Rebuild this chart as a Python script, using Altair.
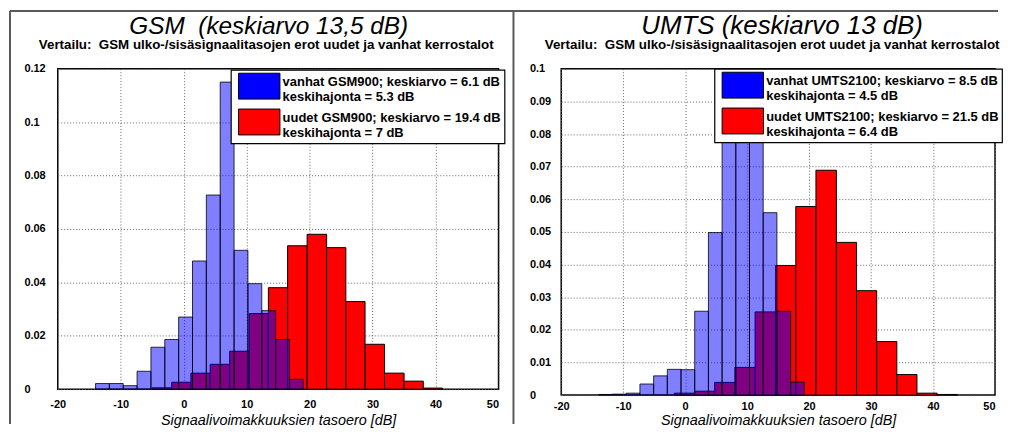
import altair as alt
import pandas as pd

FONT = "Liberation Sans"

GSM_TITLE = "GSM\u00a0 (keskiarvo 13,5 dB)"
UMTS_TITLE = "UMTS (keskiarvo 13 dB)"
SUBTITLE = "Vertailu:\u00a0 GSM ulko-/sisäsignaalitasojen erot uudet ja vanhat kerrostalot"
X_TITLE = "Signaalivoimakkuuksien tasoero [dB]"

GSM_OLD_LABEL = "vanhat GSM900; keskiarvo = 6.1 dB|keskihajonta = 5.3 dB"
GSM_NEW_LABEL = "uudet GSM900; keskiarvo = 19.4 dB|keskihajonta = 7 dB"
UMTS_OLD_LABEL = "vanhat UMTS2100; keskiarvo = 8.5 dB|keskihajonta = 4.5 dB"
UMTS_NEW_LABEL = "uudet UMTS2100; keskiarvo = 21.5 dB|keskihajonta = 6.4 dB"

X_TICKS = [-20, -10, 0, 10, 20, 30, 40, 50]
GSM_Y_TICKS = [0, 0.02, 0.04, 0.06, 0.08, 0.1, 0.12]
UMTS_Y_TICKS = [0, 0.01, 0.02, 0.03, 0.04, 0.05, 0.06, 0.07, 0.08, 0.09, 0.1]

# GSM: old buildings (blue) and new buildings (red), density histograms
GSM_OLD_EDGES = [-14.0, -11.8, -9.6, -7.4, -5.2, -3.0, -0.8, 1.4, 3.6, 5.8, 8.0, 10.2, 12.4, 14.6, 16.8, 19.0]
GSM_OLD_DENS = [0.0021, 0.0021, 0.0013, 0.0067, 0.0157, 0.0186, 0.027, 0.048, 0.0727, 0.115, 0.052, 0.0395, 0.0294, 0.0186, 0.0037]
GSM_NEW_EDGES = [-5.0, -1.9, 1.15, 4.2, 7.3, 10.4, 13.45, 16.5, 19.6, 22.7, 25.75, 28.8, 31.9, 35.0, 38.05, 41.1]
GSM_NEW_DENS = [0.0005, 0.0026, 0.006, 0.0093, 0.0142, 0.0283, 0.038, 0.0537, 0.058, 0.053, 0.0328, 0.0168, 0.006, 0.003, 0.0004]

# UMTS
UMTS_OLD_EDGES = [-13.93, -11.72, -9.51, -7.3, -5.09, -2.88, -0.67, 1.54, 3.75, 5.96, 8.17, 10.38, 12.59, 14.8, 17.01, 19.22]
UMTS_OLD_DENS = [0.0002, 0.0003, 0.0006, 0.0034, 0.0059, 0.0079, 0.0078, 0.0257, 0.0498, 0.088, 0.095, 0.083, 0.0559, 0.0257, 0.004]
UMTS_NEW_EDGES = [-1.75, 1.5, 4.76, 8.02, 11.28, 14.6, 17.85, 21.1, 24.4, 27.65, 30.9, 34.15, 37.4, 40.65, 43.9]
UMTS_NEW_DENS = [0.0006, 0.0012, 0.0039, 0.0085, 0.0255, 0.0397, 0.0578, 0.0689, 0.0468, 0.032, 0.0164, 0.0063, 0.0006, 0.0002]


def hist_df(edges, dens, label):
    return pd.DataFrame({
        "x0": edges[:-1],
        "x1": edges[1:],
        "d": dens,
        "base": [0.0] * len(dens),
        "series": [label] * len(dens),
    })


def panel(title, title_size, title_x, sub_x, old_label, old_edges, old_dens, new_label, new_edges,
          new_dens, y_ticks, ymax, height, width, y_lab_pad, x_lab_pad, x_title_y, legend_xy, frame):
    old_df = hist_df(old_edges, old_dens, old_label)
    new_df = hist_df(new_edges, new_dens, new_label)

    xenc = alt.X("x0:Q", scale=alt.Scale(domain=[-20, 50], nice=False, zero=False),
                 axis=alt.Axis(values=X_TICKS, title=X_TITLE, labelExpr="'' + datum.value",
                               labelPadding=x_lab_pad, titleY=x_title_y, titleBaseline="alphabetic",
                               labelAlign=alt.condition("datum.value == 50",
                                                        alt.value("right"), alt.value("center"))))
    yenc = alt.Y("d:Q", scale=alt.Scale(domain=[0, ymax], nice=False),
                 axis=alt.Axis(values=y_ticks, title=None, labelExpr="'' + datum.value",
                               labelAlign="left", labelPadding=y_lab_pad))
    color = alt.Color(
        "series:N",
        scale=alt.Scale(domain=[old_label, new_label], range=["#0000ff", "#ff0000"]),
        legend=alt.Legend(
            orient="none", legendX=legend_xy[0], legendY=legend_xy[1], title=None,
            symbolType="M-1.6,-1H1.6V1H-1.6Z", symbolSize=676,
            symbolStrokeColor="black", symbolStrokeWidth=1, symbolOpacity=1,
            symbolOffset=12, labelOffset=10,
            labelFont=FONT, labelFontSize=13, labelFontWeight="bold", labelColor="black",
            labelLimit=500, labelExpr="split(datum.label, '|')", labelBaseline="alphabetic",
            fillColor="white", strokeColor="black", padding=3, rowPadding=2,
        ),
    )

    red = alt.Chart(new_df).mark_rect(stroke="black", strokeWidth=1).encode(
        x=xenc, x2="x1:Q", y=yenc, y2="base:Q", color=color)
    blue = alt.Chart(old_df).mark_rect(fillOpacity=0.5, stroke="black", strokeOpacity=0.8,
                                       strokeWidth=1).encode(
        x=xenc, x2="x1:Q", y=yenc, y2="base:Q", color=color)

    one = pd.DataFrame({"k": [0]})
    fv = alt.Chart(one).mark_rule(color="#5a5a5a", strokeWidth=2).encode(
        x=alt.value(frame[0]), y=alt.value(frame[1]), y2=alt.value(frame[2]))
    fh = alt.Chart(one).mark_rule(color="#5a5a5a", strokeWidth=2).encode(
        x=alt.value(frame[0]), x2=alt.value(frame[3]), y=alt.value(frame[1]))
    ttl = alt.Chart(one).mark_text(
        font=FONT, fontSize=title_size, fontStyle="italic", fontWeight="normal",
        color="black", align="center", baseline="alphabetic"
    ).encode(x=alt.value(title_x), y=alt.value(-35), text=alt.value(title))
    sub = alt.Chart(one).mark_text(
        font=FONT, fontSize=13.4, fontWeight="bold", color="black",
        align="center", baseline="alphabetic"
    ).encode(x=alt.value(sub_x), y=alt.value(-19.5), text=alt.value(SUBTITLE))

    return alt.layer(red, blue, fv, fh, ttl, sub).properties(
        width=width, height=height,
    ).resolve_scale(color="shared")


left = panel(GSM_TITLE, 24.5, 212, 209.5, GSM_OLD_LABEL, GSM_OLD_EDGES, GSM_OLD_DENS,
             GSM_NEW_LABEL, GSM_NEW_EDGES, GSM_NEW_DENS,
             GSM_Y_TICKS, 0.12, 322, 443, 34, 9, 36, (174, 1), (-48, -58, 357, 459))
right = panel(UMTS_TITLE, 26, 222, 212, UMTS_OLD_LABEL, UMTS_OLD_EDGES, UMTS_OLD_DENS,
              UMTS_NEW_LABEL, UMTS_NEW_EDGES, UMTS_NEW_DENS,
              UMTS_Y_TICKS, 0.1, 328, 436, 32, 5, 30, (154, 0), (-48, -58, 357, 439))

chart = alt.hconcat(left, right, spacing=63, bounds="flush").resolve_scale(
    color="independent").resolve_legend(color="independent").properties(
    padding=0, background="white"
).configure_view(stroke="black", strokeWidth=1.5).configure_axis(
    labelFont=FONT, labelFontSize=11, labelFontWeight="bold", labelColor="black",
    titleFont=FONT, titleFontSize=14.5, titleFontStyle="italic", titleFontWeight="normal",
    titleColor="black", domain=False, ticks=False,
    grid=True, gridColor="#666666", gridDash=[1, 2], gridWidth=1,
).configure_legend(strokeWidth=1.2)

chart.save("out.html", embed_options={"renderer": "svg", "actions": False})
